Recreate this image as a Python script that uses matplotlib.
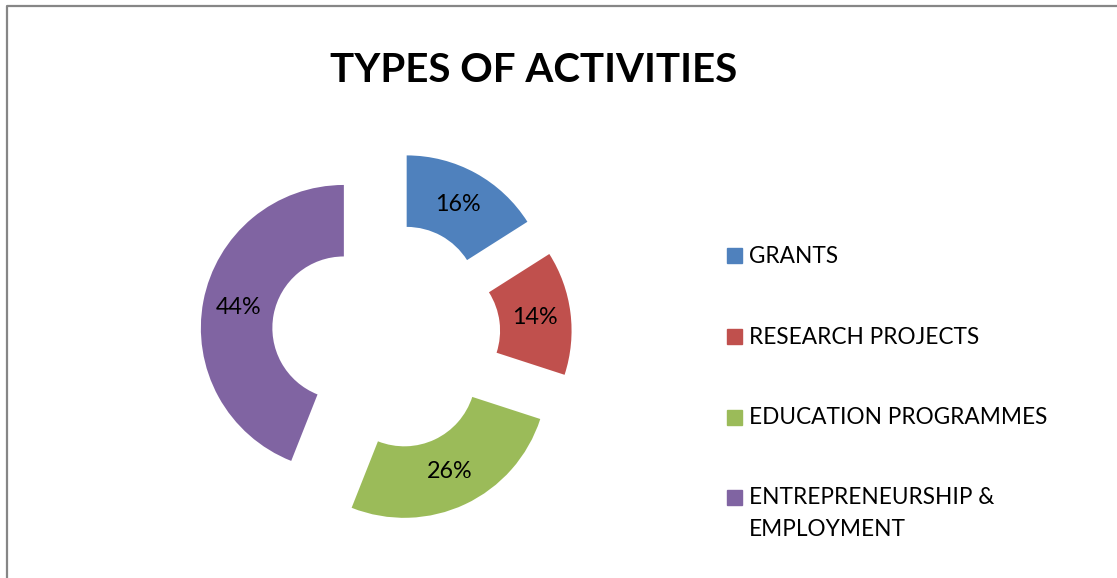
import matplotlib
matplotlib.use("Agg")
import matplotlib.pyplot as plt
from matplotlib.patches import Rectangle
from matplotlib.lines import Line2D

# данные
categories = ["GRANTS", "RESEARCH PROJECTS", "EDUCATION PROGRAMMES",
              "ENTREPRENEURSHIP &\nEMPLOYMENT"]
shares = [16, 14, 26, 44]
colors = ["#4F81BD", "#C0504D", "#9BBB59", "#8064A2"]

W, H = 1117, 578
FONT = "Lato"


def fx(x):
    return x / W


def fy(y):
    return 1 - y / H


fig = plt.figure(figsize=(W / 100, H / 100), dpi=100)

# pie axes: centre (386, 336) px, radius 143 px
cx, cy, R, L = 386, 336, 143, 1.6
half = L * R
ax = fig.add_axes([fx(cx - half), fy(cy + half), 2 * half / W, 2 * half / H])
wedges, texts, autotexts = ax.pie(
    shares, colors=colors, startangle=90, counterclock=False,
    explode=[0.3] * len(shares), radius=1,
    wedgeprops=dict(width=0.5, edgecolor="none"),
    autopct=lambda p: f"{p:.0f}%", pctdistance=0.75,
    textprops=dict(fontsize=16.8, family=FONT, color="black"))
ax.set_xlim(-L, L)
ax.set_ylim(-L, L)
ax.set_aspect("equal")
ax.axis("off")

# title
fig.text(fx(534), fy(81.7), "TYPES OF ACTIVITIES", ha="center", va="baseline",
         fontsize=29, fontweight="bold", family=FONT)

# legend
row_y = [256, 336, 417, 497]
for y, lab, col in zip(row_y, categories, colors):
    fig.patches.append(Rectangle((fx(727), fy(y + 7.5)), 15 / W, 15 / H,
                                 transform=fig.transFigure, color=col))
    for i, line in enumerate(lab.split("\n")):
        fig.text(fx(749), fy(y + 7.5 + 32 * i), line, ha="left",
                 va="baseline", fontsize=16.3, family=FONT)

# frame (only top and left edges visible)
fig.lines.append(Line2D([fx(7), fx(7), fx(W)], [0, fy(5.5), fy(5.5)],
                        transform=fig.transFigure, color="#868686", lw=1.6))

fig.savefig("out.png", dpi=100)
